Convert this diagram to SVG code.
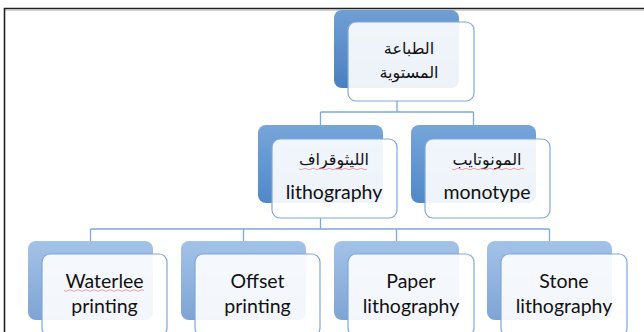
<svg xmlns="http://www.w3.org/2000/svg" width="644" height="332" viewBox="0 0 644 332">
<defs>
<linearGradient id="gTop" x1="0" y1="0" x2="0" y2="1"><stop offset="0" stop-color="#6f9fd4"/><stop offset="1" stop-color="#4a7fc0"/></linearGradient>
<linearGradient id="gMid" x1="0" y1="0" x2="0" y2="1"><stop offset="0" stop-color="#76a5d9"/><stop offset="1" stop-color="#5089c8"/></linearGradient>
<linearGradient id="gBot" x1="0" y1="0" x2="0" y2="1"><stop offset="0" stop-color="#a3c2e7"/><stop offset="1" stop-color="#7fa4d4"/></linearGradient>
</defs>
<style>
.back{stroke:none}
.front{fill:#ffffff;fill-opacity:0.9;stroke:#7ea8da;stroke-width:1.2}
.conn{fill:none;stroke:#7ea8da;stroke-width:1.3}
.en{font-family:Lato,"Liberation Sans",sans-serif;font-size:19.5px;fill:#111;text-anchor:middle}
.ar{font-family:"DejaVu Sans","Noto Sans",sans-serif;font-size:16px;fill:#111;text-anchor:middle}
.sp{fill:none;stroke:#e88a8a;stroke-width:0.8}
</style>
<rect x="0" y="0" width="644" height="332" fill="#fff"/>
<g id="frame">
<line x1="4" y1="8.5" x2="644" y2="8.5" stroke="#222" stroke-width="1.6"/>
<line x1="4" y1="10" x2="644" y2="10" stroke="#aaa" stroke-width="1"/>
<line x1="4.5" y1="8" x2="4.5" y2="332" stroke="#222" stroke-width="1.6"/>
</g>
<g id="connectors">
<path class="conn" d="M397 101 V112 M320.5 112 H473.5 M320.5 112 V125 M473.5 112 V125"/>
<path class="conn" d="M320.5 218 V229 M90.5 229 H549.5 M90.5 229 V241 M243.5 229 V241 M396.5 229 V241 M549.5 229 V241"/>
</g>
<g id="node-top">
<rect class="back" x="334" y="10" width="125" height="78" rx="8" fill="url(#gTop)"/>
<rect class="front" x="348" y="22" width="126" height="79" rx="8"/>
<text class="ar" x="409" y="54">الطباعة</text>
<text class="ar" x="409" y="78">المستوية</text>
</g>
<g id="node-lithography">
<rect class="back" x="258" y="125" width="125" height="78" rx="8" fill="url(#gMid)"/>
<rect class="front" x="272" y="139" width="125" height="79" rx="8"/>
<text class="ar" x="334" y="165">الليثوقراف</text>
<path class="sp" d="M299 169 q2 1.5 4 0 t4 0 t4 0 t4 0 t4 0 t4 0 t4 0 t4 0 t4 0 t4 0 t4 0 t4 0 t4 0 t4 0 t4 0 t4 0 t4 0"/>
<text class="en" x="334" y="199">lithography</text>
</g>
<g id="node-monotype">
<rect class="back" x="411" y="125" width="125" height="78" rx="8" fill="url(#gMid)"/>
<rect class="front" x="425" y="139" width="125" height="79" rx="8"/>
<text class="ar" x="487" y="165">المونوتايب</text>
<path class="sp" d="M452 169 q2 1.5 4 0 t4 0 t4 0 t4 0 t4 0 t4 0 t4 0 t4 0 t4 0 t4 0 t4 0 t4 0 t4 0 t4 0 t4 0 t4 0 t4 0 t4 0"/>
<text class="en" x="487" y="199">monotype</text>
</g>
<g id="node-waterlee">
<rect class="back" x="28" y="241" width="125" height="79" rx="8" fill="url(#gBot)"/>
<rect class="front" x="42" y="254" width="125" height="82" rx="8"/>
<text class="en" x="104.5" y="288">Waterlee</text>
<path class="sp" d="M64 290.5 q2 1.5 4 0 t4 0 t4 0 t4 0 t4 0 t4 0 t4 0 t4 0 t4 0 t4 0 t4 0 t4 0 t4 0 t4 0 t4 0 t4 0 t4 0 t4 0 t4 0 t4 0"/>
<text class="en" x="104.5" y="313">printing</text>
</g>
<g id="node-offset">
<rect class="back" x="181" y="241" width="125" height="79" rx="8" fill="url(#gBot)"/>
<rect class="front" x="195" y="254" width="125" height="82" rx="8"/>
<text class="en" x="257.5" y="288">Offset</text>
<text class="en" x="257.5" y="313">printing</text>
</g>
<g id="node-paper">
<rect class="back" x="334" y="241" width="125" height="79" rx="8" fill="url(#gBot)"/>
<rect class="front" x="348" y="254" width="126" height="82" rx="8"/>
<text class="en" x="411" y="288">Paper</text>
<text class="en" x="411" y="313">lithography</text>
</g>
<g id="node-stone">
<rect class="back" x="487" y="241" width="125" height="79" rx="8" fill="url(#gBot)"/>
<rect class="front" x="501" y="254" width="126" height="82" rx="8"/>
<text class="en" x="564" y="288">Stone</text>
<text class="en" x="564" y="313">lithography</text>
</g>
</svg>
